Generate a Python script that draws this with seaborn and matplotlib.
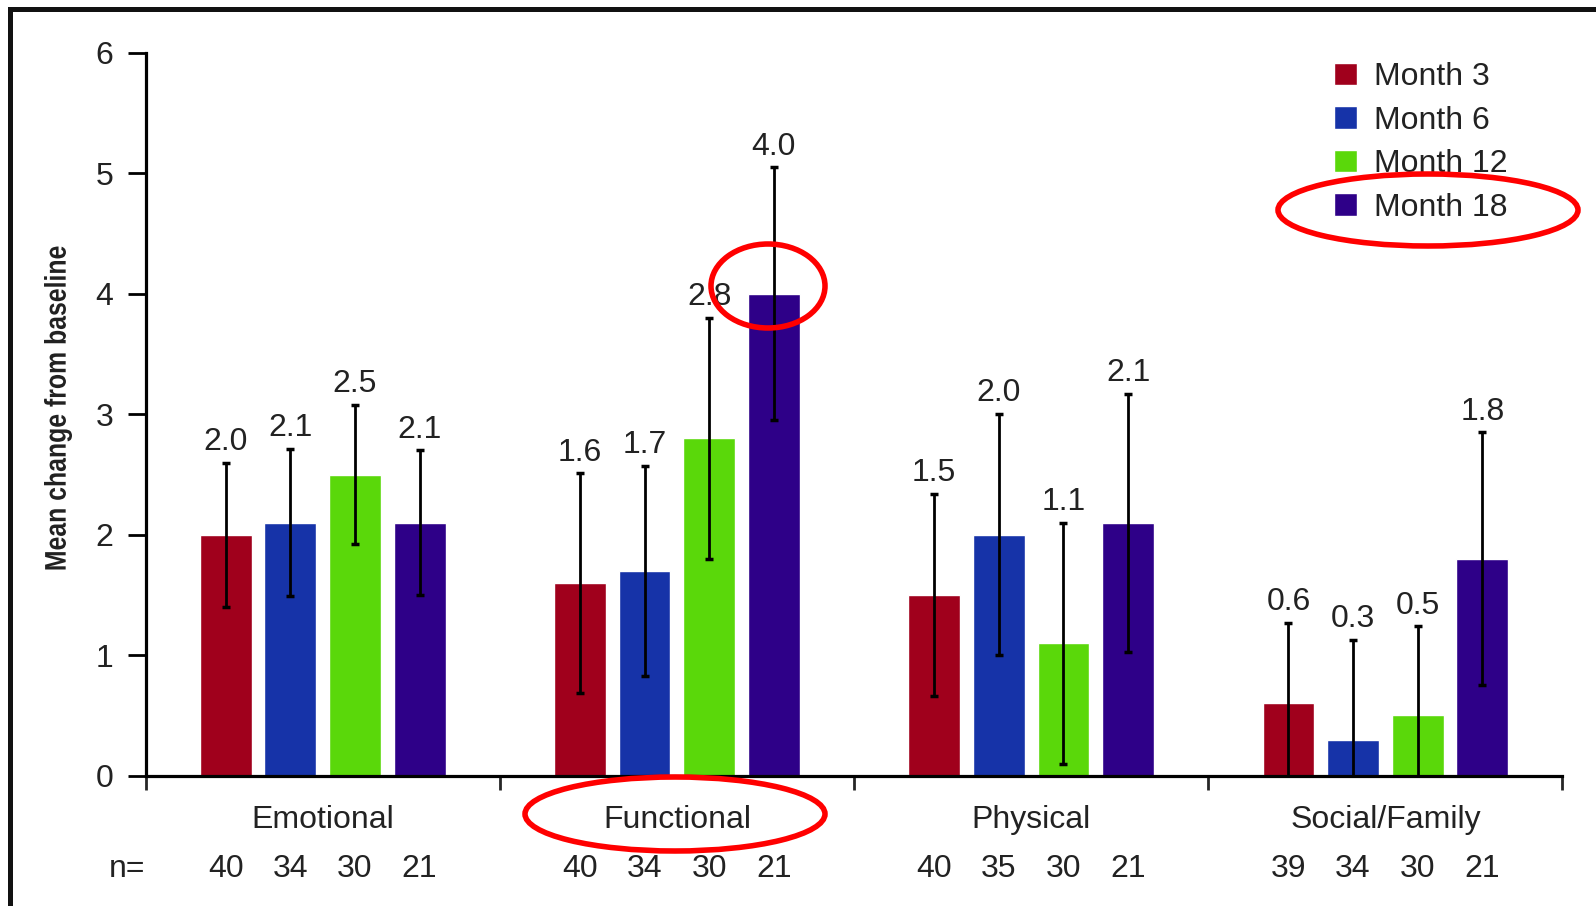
import numpy as np
import pandas as pd
import matplotlib
matplotlib.use('Agg')
import matplotlib.pyplot as plt
from matplotlib.patches import Ellipse, Rectangle, PathPatch
from matplotlib.textpath import TextPath
from matplotlib.font_manager import FontProperties
from matplotlib.transforms import Affine2D, IdentityTransform
import seaborn as sns

# data
domains = ['Emotional', 'Functional', 'Physical', 'Social/Family']
months = ['Month 3', 'Month 6', 'Month 12', 'Month 18']
means = {
    'Month 3':  [2.0, 1.6, 1.5, 0.6],
    'Month 6':  [2.1, 1.7, 2.0, 0.3],
    'Month 12': [2.5, 2.8, 1.1, 0.5],
    'Month 18': [2.1, 4.0, 2.1, 1.8],
}
errs = {
    'Month 3':  [0.60, 0.91, 0.84, 0.67],
    'Month 6':  [0.61, 0.87, 1.00, 0.83],
    'Month 12': [0.58, 1.00, 1.00, 0.74],
    'Month 18': [0.60, 1.05, 1.07, 1.05],
}
n_counts = {
    'Month 3':  [40, 40, 40, 39],
    'Month 6':  [34, 34, 35, 34],
    'Month 12': [30, 30, 30, 30],
    'Month 18': [21, 21, 21, 21],
}
colors = ['#A0001C', '#1633A8', '#5AD80A', '#2E0088']
ylabel = 'Mean change from baseline'

rows = []
for m in months:
    for d, v in zip(domains, means[m]):
        rows.append({'domain': d, 'month': m, 'mean': v})
df = pd.DataFrame(rows)

sns.set_style('white')
plt.rcParams['font.family'] = ['Liberation Sans', 'DejaVu Sans']
txt = '#222222'
fs = 23

fig = plt.figure(figsize=(15.96, 9.06), dpi=100)
ax = fig.add_axes([0.0912, 0.1438, 0.8878, 0.7978])

sns.barplot(data=df, x='domain', y='mean', hue='month', order=domains,
            hue_order=months, palette=colors, saturation=1, width=0.73,
            gap=0.2, errorbar=None, ax=ax)

# error bars + value labels, one container per month
for cont, m in zip(ax.containers, months):
    xs = [p.get_x() + p.get_width() / 2 for p in cont.patches]
    ax.errorbar(xs, means[m], yerr=errs[m], fmt='none', ecolor='black',
                elinewidth=2.0, capsize=3, capthick=2.5, zorder=4)
    for x, v, e, n in zip(xs, means[m], errs[m], n_counts[m]):
        ax.annotate(f'{v:.1f}', (x, v + e), xytext=(0, 15), textcoords='offset points',
                    ha='center', va='center', fontsize=fs, color=txt)
        ax.annotate(str(n), (x, 0), xytext=(0, -67), textcoords='offset points',
                    ha='center', va='center', fontsize=fs, color=txt,
                    annotation_clip=False)

ax.annotate('n=', (-0.5, 0), xytext=(0, -67), textcoords='offset points',
            ha='right', va='center', fontsize=fs, color=txt, annotation_clip=False)

ax.set_xlim(-0.5, 3.5)
ax.set_ylim(0, 6)
ax.set_yticks(range(0, 7))
ax.tick_params(axis='y', direction='out', length=13, width=2, pad=10,
               labelsize=fs, colors='black', labelcolor=txt, left=True)
ax.set_xticks([-0.5, 0.5, 1.5, 2.5, 3.5])
ax.set_xticklabels([])
ax.set_xticks(range(len(domains)), minor=True)
ax.set_xticklabels(domains, minor=True)
ax.tick_params(axis='x', which='major', direction='out', length=10, width=2, bottom=True)
ax.tick_params(axis='x', which='minor', length=0, pad=21, labelsize=fs, labelcolor=txt)

sns.despine(ax=ax)
for s in ['left', 'bottom']:
    ax.spines[s].set_linewidth(2.3)
    ax.spines[s].set_color('black')
ax.set_xlabel('')
ax.set_ylabel('')

# condensed y label: no narrow font installed, so squeeze a text path
tp = TextPath((0, 0), ylabel, size=20,
              prop=FontProperties(family='Liberation Sans', weight='bold'))
ext = tp.get_extents()
sx = 323 / ext.width
sy = 28 / ext.height
tr = (Affine2D().translate(-(ext.x0 + ext.width / 2), -(ext.y0 + ext.height / 2))
      .scale(sx, sy).rotate_deg(90).translate(58, 906 - 408))
fig.add_artist(PathPatch(tp, transform=tr + IdentityTransform(),
                         facecolor=txt, edgecolor='none'))

handles, labels = ax.get_legend_handles_labels()
ax.legend(handles, labels, loc='upper left', bbox_to_anchor=(0.818, 0.963),
          bbox_transform=fig.transFigure, frameon=False, fontsize=fs,
          handlelength=0.7, handleheight=0.7, handletextpad=0.55,
          labelspacing=0.42, labelcolor=txt)

# red highlight ellipses
red = '#FF0000'
for cx, cy, w, h in [(1428, 210, 300, 72), (768, 286, 114, 84), (675, 814, 300, 74)]:
    fig.patches.append(Ellipse((cx / 1596, 1 - cy / 906), w / 1596, h / 906,
                               transform=fig.transFigure, fill=False,
                               edgecolor=red, linewidth=4))

# screenshot frame
fig.patches.append(Rectangle((0.0063, -0.05), 1.2, 0.05 + 0.990,
                             transform=fig.transFigure, fill=False,
                             edgecolor='#111111', linewidth=3.6))

fig.savefig('out.png', dpi=100, facecolor='white')
